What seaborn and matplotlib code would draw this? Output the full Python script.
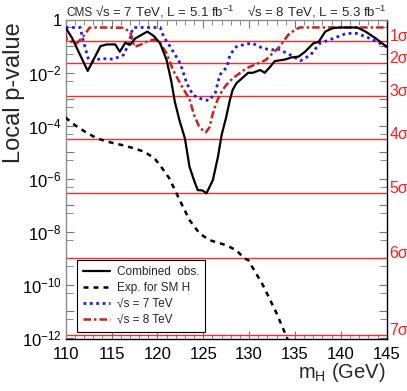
import numpy as np
import pandas as pd
import matplotlib
matplotlib.use("Agg")
import matplotlib.pyplot as plt
import matplotlib.ticker as mticker
import matplotlib.transforms as mtransforms
import seaborn as sns

sns.set_style("ticks")
plt.rcParams['font.family'] = ['Liberation Sans', 'DejaVu Sans']
plt.rcParams['mathtext.fontset'] = 'custom'
plt.rcParams['mathtext.rm'] = 'Liberation Sans'
plt.rcParams['mathtext.it'] = 'Liberation Sans:italic'
plt.rcParams['mathtext.bf'] = 'Liberation Sans:bold'

# --- combined observed local p-value ---
obs_mass = [110.0, 110.7, 112.4, 113.8, 114.5, 115.4, 115.9, 116.5, 117.0, 117.6,
            118.9, 119.6, 120.3, 121.0, 121.5, 121.9, 122.4, 123.0, 123.5, 124.05,
            124.4, 124.9, 125.35, 126.05, 126.6, 127.0, 127.5, 127.9, 128.2, 128.6,
            129.2, 129.9, 130.4, 131.2, 131.7, 132.3, 132.8, 133.9, 134.6, 135.4,
            136.1, 137.0, 137.6, 138.3, 139.1, 139.8, 141.8, 142.7, 143.8, 145.0]
obs_p = [0.48, 0.20, 0.0115, 0.10, 0.115, 0.115, 0.061, 0.133, 0.11, 0.195,
         0.35, 0.24, 0.126, 0.030, 5e-3, 8e-4, 1.6e-4, 3.3e-5, 2.8e-6, 7.6e-7,
         3.7e-7, 3.6e-7, 2.8e-7, 8.9e-7, 6.6e-6, 4.4e-5, 2.1e-4, 9.1e-4, 2.2e-3, 3.9e-3,
         6.0e-3, 0.0098, 0.0098, 0.0125, 0.0098, 0.0166, 0.027, 0.031, 0.037, 0.040,
         0.061, 0.126, 0.146, 0.35, 0.47, 0.5, 0.5, 0.35, 0.195, 0.094]

# --- expected for SM Higgs (log10 p) ---
exp_mass = [110.0, 110.1, 111.0, 112.1, 113.4, 114.6, 116.1, 117.5, 118.6, 119.7,
            120.4, 121.3, 122.6, 123.5, 124.6, 125.7, 127.5, 128.6, 129.5, 129.9,
            131.5, 133.0, 134.2]
exp_log = [-3.69, -3.73, -3.98, -4.23, -4.48, -4.61, -4.73, -4.86, -4.99, -5.24,
           -5.55, -5.99, -6.93, -7.56, -8.07, -8.32, -8.51, -8.70, -9.01, -9.07,
           -10.01, -11.08, -12.06]

# --- sqrt(s) = 7 TeV ---
s7_mass = [110.0, 111.6, 111.8, 112.5, 113.0, 113.8, 115.2, 116.3, 116.9, 117.2,
           117.4, 120.3, 120.7, 121.4, 122.5, 123.2, 123.9, 124.6, 125.6, 126.3,
           126.8, 127.6, 127.9, 128.6, 129.7, 130.4, 131.5, 132.5, 133.0, 134.5,
           135.6, 136.7, 137.7, 139.2, 140.6, 141.7, 142.8, 143.9, 145.0]
s7_p = [0.5, 0.5, 0.22, 0.030, 0.026, 0.034, 0.032, 0.046, 0.126, 0.35,
        0.5, 0.5, 0.22, 0.094, 0.022, 3.9e-3, 1.4e-3, 1.07e-3, 8.7e-4, 1.65e-3,
        8.1e-3, 0.0166, 0.046, 0.094, 0.12, 0.126, 0.082, 0.071, 0.082, 0.046,
        0.028, 0.046, 0.126, 0.195, 0.30, 0.30, 0.22, 0.146, 0.094]

# --- sqrt(s) = 8 TeV (log10 p) ---
s8_mass = [110.0, 110.1, 111.2, 111.9, 112.6, 113.4, 116.3, 117.0, 117.2, 117.5,
           118.1, 118.8, 119.7, 120.3, 121.0, 121.7, 122.1, 122.8, 123.5, 124.0,
           124.5, 125.0, 125.3, 125.7, 126.0, 126.4, 126.8, 127.1, 127.5, 128.2,
           129.7, 131.8, 133.3, 134.4, 135.5, 145.0]
s8_log = [-0.52, -0.77, -0.90, -0.65, -0.31, -0.30, -0.31, -0.46, -0.65, -1.03,
          -0.96, -0.84, -0.75, -0.90, -1.27, -1.90, -2.16, -2.60, -3.00, -3.60,
          -4.00, -4.20, -4.25, -4.05, -3.60, -3.16, -2.85, -2.66, -2.47, -2.22,
          -1.84, -1.53, -1.03, -0.52, -0.30, -0.30]

sigma_names = ["1σ", "2σ", "3σ", "4σ", "5σ", "6σ", "7σ"]
sigma_p = [0.1587, 0.02275, 1.35e-3, 3.167e-5, 2.867e-7, 9.866e-10, 1.28e-12]

df_obs = pd.DataFrame({'mH': obs_mass, 'p': obs_p})
df_exp = pd.DataFrame({'mH': exp_mass, 'p': 10.0 ** np.array(exp_log)})
df_7 = pd.DataFrame({'mH': s7_mass, 'p': s7_p})
df_8 = pd.DataFrame({'mH': s8_mass, 'p': 10.0 ** np.array(s8_log)})

fig = plt.figure(figsize=(4.07, 3.91), dpi=100)
ax = fig.add_axes([0.1614, 0.133, 0.7887, 0.8171])
ax.set_yscale('log')

# sigma reference lines
for p in sigma_p:
    ax.axhline(p, color='#ff2a2a', lw=1.0, zorder=1)

sns.lineplot(data=df_7, x='mH', y='p', ax=ax, color='#1a1aff', lw=2.0,
             linestyle=(0, (1, 1.3)), label='√s = 7 TeV', zorder=3)
sns.lineplot(data=df_8, x='mH', y='p', ax=ax, color='#cc2020', lw=1.8,
             linestyle=(0, (3, 1.2, 1, 1.2)), label='√s = 8 TeV', zorder=3)
sns.lineplot(data=df_exp, x='mH', y='p', ax=ax, color='black', lw=1.8,
             linestyle=(0, (2, 2)), label='Exp. for SM H', zorder=4)
sns.lineplot(data=df_obs, x='mH', y='p', ax=ax, color='black', lw=1.6,
             label='Combined  obs.', zorder=5)

ax.set_xlim(110, 145)
ax.set_ylim(9e-13, 1.0)

# ticks
ax.xaxis.set_major_locator(mticker.MultipleLocator(5))
ax.xaxis.set_minor_locator(mticker.MultipleLocator(1))
ax.yaxis.set_major_locator(mticker.LogLocator(base=10, numticks=30))
ax.yaxis.set_minor_locator(mticker.LogLocator(base=10, subs=[5.0], numticks=30))


def ylab(v, pos):
    e = int(round(np.log10(v)))
    if e % 2 != 0:
        return ''
    if e == 0:
        return '1'
    return r'$10^{%d}$' % e


ax.yaxis.set_major_formatter(mticker.FuncFormatter(ylab))
ax.yaxis.set_minor_formatter(mticker.NullFormatter())
ax.tick_params(axis='both', which='both', direction='in', colors='#777777',
               labelcolor='black', top=True, right=True)
ax.tick_params(axis='x', which='major', length=6, labelsize=12, pad=5.5)
ax.tick_params(axis='x', which='minor', length=3.5)
ax.tick_params(axis='y', which='major', length=6, labelsize=12, pad=3)
ax.tick_params(axis='y', which='minor', length=5)

for side in ['left', 'top']:
    ax.spines[side].set_color('#8c8c8c')
for side in ['right', 'bottom']:
    ax.spines[side].set_color('black')
for s in ax.spines.values():
    s.set_linewidth(1.0)

ax.set_ylabel('Local p-value', fontsize=17)
ax.yaxis.set_label_coords(-0.127, 0.771)
ax.set_xlabel(r'm$_{\mathrm{H}}$ (GeV)', fontsize=14.5, ha='right')
ax.xaxis.set_label_coords(0.997, -0.07)

# sigma labels on the right
trans = mtransforms.blended_transform_factory(ax.transAxes, ax.transData)
for name, p in zip(sigma_names, sigma_p):
    ax.text(1.008, p, name, transform=trans, color='#ff2020', fontsize=11.5,
            ha='left', va='baseline', clip_on=False)

# header
fig.text(66 / 407, 1 - 16 / 391, 'CMS', fontsize=8.5, va='baseline')
fig.text(95 / 407, 1 - 16 / 391, r'√s = 7 TeV, L = 5.1 fb$^{-1}$', fontsize=9.5, va='baseline')
fig.text(247 / 407, 1 - 16 / 391, r'√s = 8 TeV, L = 5.3 fb$^{-1}$', fontsize=9.5, va='baseline')

# legend in ROOT order
h, l = ax.get_legend_handles_labels()
order = ['Combined  obs.', 'Exp. for SM H', '√s = 7 TeV', '√s = 8 TeV']
hd = dict(zip(l, h))
leg = ax.legend([hd[k] for k in order], order, loc='lower left',
                bbox_to_anchor=(0.035, 0.022), borderaxespad=0, fontsize=8.5,
                frameon=True, fancybox=False, edgecolor='black', framealpha=1,
                handlelength=2.3, handletextpad=0.6, labelspacing=0.35,
                borderpad=0.5)
leg.get_frame().set_linewidth(0.8)

fig.savefig('out.png', dpi=100)
